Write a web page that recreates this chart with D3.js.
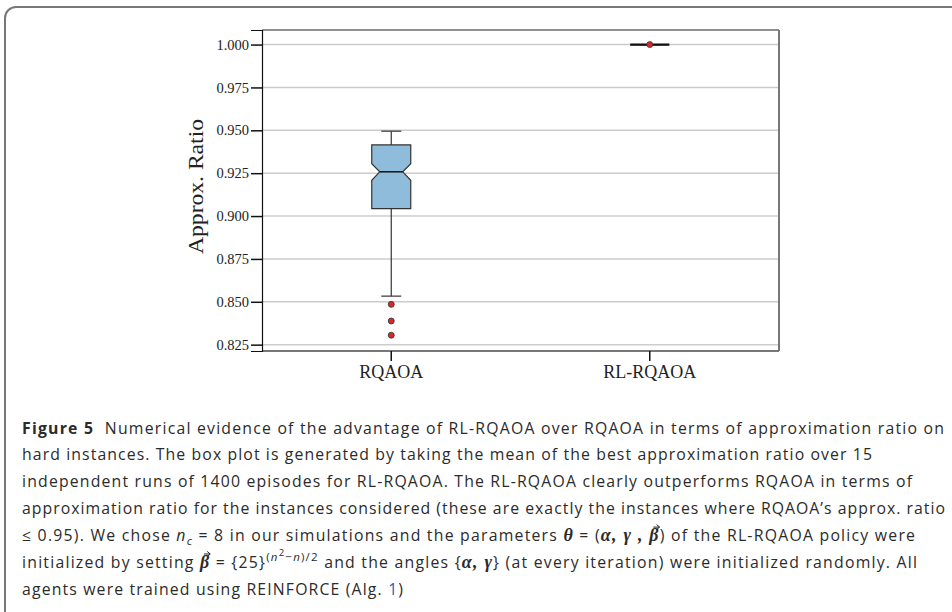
<!DOCTYPE html>
<html>
<head>
<meta charset="utf-8">
<script src="https://cdn.jsdelivr.net/npm/d3@7"></script>
<style>
  body { margin: 0; background: #fff; }
  svg { display: block; }
</style>
</head>
<body>
<svg id="fig" width="952" height="612"></svg>
<script>
// box plot data
const categories = ["RQAOA", "RL-RQAOA"];
const q1 = [0.9043, 1.0];
const median = [0.9258, 1.0];
const q3 = [0.9415, 1.0];
const notchLow = [0.9209, 1.0];
const notchHigh = [0.9305, 1.0];
const whiskerLow = [0.8533, 1.0];
const whiskerHigh = [0.9495, 1.0];
const outliers = [[0.8485, 0.8388, 0.8305], [1.0]];
const yTicks = [0.825, 0.850, 0.875, 0.900, 0.925, 0.950, 0.975, 1.000];

// caption lines, each a list of [text, kind]
const captionLines = [
  [["Figure 5", "b"], ["  Numerical evidence of the advantage of RL-RQAOA over RQAOA in terms of approximation ratio on", "r"]],
  [["hard instances. The box plot is generated by taking the mean of the best approximation ratio over 15", "r"]],
  [["independent runs of 1400 episodes for RL-RQAOA. The RL-RQAOA clearly outperforms RQAOA in terms of", "r"]],
  [["approximation ratio for the instances considered (these are exactly the instances where RQAOA\u2019s approx. ratio", "r"]],
  [["\u2264 0.95). We chose ", "r"], ["n", "i"], ["c", "sub"], [" = 8 in our simulations and the parameters ", "r"],
   ["\u03b8", "m"], [" = (", "r"], ["\u03b1, \u03b3 , ", "m"], ["\u03b2", "vec"], [") of the RL-RQAOA policy were", "r"]],
  [["initialized by setting ", "r"], ["\u03b2", "vec"], [" = {25}", "r"], ["(", "sup"], ["n", "supi"], ["2", "sup2"],
   ["\u2212", "sup"], ["n", "supi"], [")/2", "sup"], [" and the angles {", "r"], ["\u03b1, \u03b3", "m"],
   ["} (at every iteration) were initialized randomly. All", "r"]],
  [["agents were trained using REINFORCE (Alg. ", "r"], ["1", "link"], [")", "r"]]
];
const captionWidths = [922, 850, 890, 923, 893, 895, 381];

const svg = d3.select("#fig");

// outer rounded frame (runs off the right and bottom edges)
svg.append("rect")
  .attr("x", 5).attr("y", 7)
  .attr("width", 1000).attr("height", 700)
  .attr("rx", 11)
  .attr("fill", "none")
  .attr("stroke", "#777")
  .attr("stroke-width", 2);

const plot = { left: 262, right: 779, top: 30, bottom: 351 };

const x = d3.scaleBand()
  .domain(categories)
  .range([plot.left, plot.right]);

const y = d3.scaleLinear()
  .domain([0.8213, 1.0085])
  .range([plot.bottom, plot.top]);

const g = svg.append("g");

// grid lines
g.selectAll(".grid")
  .data(yTicks)
  .enter().append("line")
  .attr("x1", plot.left).attr("x2", plot.right)
  .attr("y1", d => y(d)).attr("y2", d => y(d))
  .attr("stroke", "#cccccc")
  .attr("stroke-width", 1.5);

// spines
g.append("line").attr("x1", plot.left).attr("x2", plot.right)
  .attr("y1", plot.top).attr("y2", plot.top)
  .attr("stroke", "#222").attr("stroke-width", 1);
g.append("line").attr("x1", plot.right).attr("x2", plot.right)
  .attr("y1", plot.top).attr("y2", plot.bottom)
  .attr("stroke", "#777").attr("stroke-width", 2);
g.append("line").attr("x1", plot.left).attr("x2", plot.right)
  .attr("y1", plot.bottom).attr("y2", plot.bottom)
  .attr("stroke", "#777").attr("stroke-width", 2);

// y axis
const yAxis = g.append("g")
  .attr("transform", `translate(${plot.left},0)`)
  .call(d3.axisLeft(y).tickValues(yTicks).tickFormat(d3.format(".3f")).tickSize(11).tickPadding(2));
yAxis.select(".domain").attr("stroke", "#111").attr("stroke-width", 1.2);
yAxis.selectAll(".tick line").attr("stroke", "#111").attr("stroke-width", 1.5);
yAxis.selectAll(".tick text")
  .attr("font-family", "Liberation Serif, serif")
  .attr("font-size", 14.5)
  .attr("fill", "#222");

// x axis
const xAxis = g.append("g")
  .attr("transform", `translate(0,${plot.bottom})`)
  .call(d3.axisBottom(x).tickSize(10).tickPadding(4).tickSizeOuter(0));
xAxis.select(".domain").remove();
xAxis.selectAll(".tick line").attr("stroke", "#111").attr("stroke-width", 1.5);
xAxis.selectAll(".tick text")
  .attr("font-family", "Liberation Serif, serif")
  .attr("font-size", 18)
  .attr("fill", "#222");

// y label
svg.append("text")
  .attr("transform", `translate(203,${(plot.top + plot.bottom) / 2 - 4}) rotate(-90)`)
  .attr("text-anchor", "middle")
  .attr("font-family", "Liberation Serif, serif")
  .attr("font-size", 21)
  .attr("fill", "#222")
  .attr("textLength", 135)
  .attr("lengthAdjust", "spacingAndGlyphs")
  .text("Approx. Ratio");

// boxes
const boxW = 39, inset = 8, capW = 20;
const boxes = g.selectAll(".box")
  .data(categories.map((c, i) => ({ c, i })))
  .enter().append("g");

boxes.each(function (d) {
  const sel = d3.select(this);
  const cx = x(d.c) + x.bandwidth() / 2;
  const l = cx - boxW / 2, r = cx + boxW / 2;
  const i = d.i;
  // whiskers
  sel.append("line").attr("x1", cx).attr("x2", cx)
    .attr("y1", y(q3[i])).attr("y2", y(whiskerHigh[i]))
    .attr("stroke", "#333").attr("stroke-width", 1.2);
  sel.append("line").attr("x1", cx).attr("x2", cx)
    .attr("y1", y(q1[i])).attr("y2", y(whiskerLow[i]))
    .attr("stroke", "#333").attr("stroke-width", 1.2);
  [whiskerHigh[i], whiskerLow[i]].forEach(v => {
    sel.append("line").attr("x1", cx - capW / 2).attr("x2", cx + capW / 2)
      .attr("y1", y(v)).attr("y2", y(v))
      .attr("stroke", "#333").attr("stroke-width", 1.2);
  });
  // notched box
  const pts = [
    [l, y(q3[i])], [r, y(q3[i])], [r, y(notchHigh[i])], [r - inset, y(median[i])],
    [r, y(notchLow[i])], [r, y(q1[i])], [l, y(q1[i])], [l, y(notchLow[i])],
    [l + inset, y(median[i])], [l, y(notchHigh[i])]
  ];
  sel.append("path")
    .attr("d", d3.line()(pts) + "Z")
    .attr("fill", "#8fbcdb")
    .attr("stroke", "#333")
    .attr("stroke-width", 1.2);
  // median
  const flat = q1[i] === q3[i];
  sel.append("line")
    .attr("x1", flat ? l : l + inset).attr("x2", flat ? r : r - inset)
    .attr("y1", y(median[i])).attr("y2", y(median[i]))
    .attr("stroke", "#111").attr("stroke-width", flat ? 2.2 : 1.5);
  // outliers
  sel.selectAll("circle")
    .data(outliers[i])
    .enter().append("circle")
    .attr("cx", cx).attr("cy", v => y(v))
    .attr("r", 3)
    .attr("fill", "#d42a2a")
    .attr("stroke", "#333")
    .attr("stroke-width", 0.8);
});

// caption
const sans = "Open Sans";
const fs = 15.8;
const kinds = {
  b:    { fam: sans, w: 700, st: "normal", sz: fs, off: 0 },
  r:    { fam: sans, w: 400, st: "normal", sz: fs, off: 0 },
  i:    { fam: sans, w: 400, st: "italic", sz: fs, off: 0 },
  sub:  { fam: sans, w: 400, st: "italic", sz: 11.5, off: 4 },
  m:    { fam: "Liberation Serif", w: 700, st: "italic", sz: 18, off: 0 },
  vec:  { fam: "Liberation Serif", w: 700, st: "italic", sz: 18, off: 0 },
  sup:  { fam: sans, w: 400, st: "normal", sz: 11.5, off: -7 },
  supi: { fam: sans, w: 400, st: "italic", sz: 11.5, off: -7 },
  sup2: { fam: sans, w: 400, st: "normal", sz: 9.5, off: -12 },
  link: { fam: sans, w: 400, st: "normal", sz: fs, off: 0, fill: "#2a5db0" }
};

const cap = svg.append("g").attr("fill", "#2b2b2b");
const vecChars = [];
captionLines.forEach((line, li) => {
  const t = cap.append("text")
    .attr("x", 22)
    .attr("y", 433.5 + li * 26.9)
    .attr("font-family", sans)
    .attr("font-size", fs)
    .attr("textLength", captionWidths[li])
    .attr("lengthAdjust", "spacing")
    .attr("xml:space", "preserve")
    .style("white-space", "pre");
  let prev = 0, idx = 0;
  line.forEach(([txt, k]) => {
    const s = kinds[k];
    const sp = t.append("tspan")
      .attr("dy", s.off - prev)
      .attr("font-family", s.fam)
      .attr("font-weight", s.w)
      .attr("font-style", s.st)
      .attr("font-size", s.sz)
      .text(txt);
    if (s.fill) sp.attr("fill", s.fill);
    if (k === "vec") vecChars.push([t.node(), idx]);
    idx += txt.length;
    prev = s.off;
  });
});

// arrows above the vector symbols
vecChars.forEach(([node, idx]) => {
  const b = node.getExtentOfChar(idx);
  const ay = b.y + 2;
  const x0 = b.x + 4, x1 = b.x + b.width + 1;
  cap.append("path")
    .attr("d", `M${x0},${ay}L${x1},${ay}M${x1 - 3},${ay - 2.5}L${x1},${ay}L${x1 - 3},${ay + 2.5}`)
    .attr("fill", "none")
    .attr("stroke", "#222")
    .attr("stroke-width", 1);
});
</script>
</body>
</html>
